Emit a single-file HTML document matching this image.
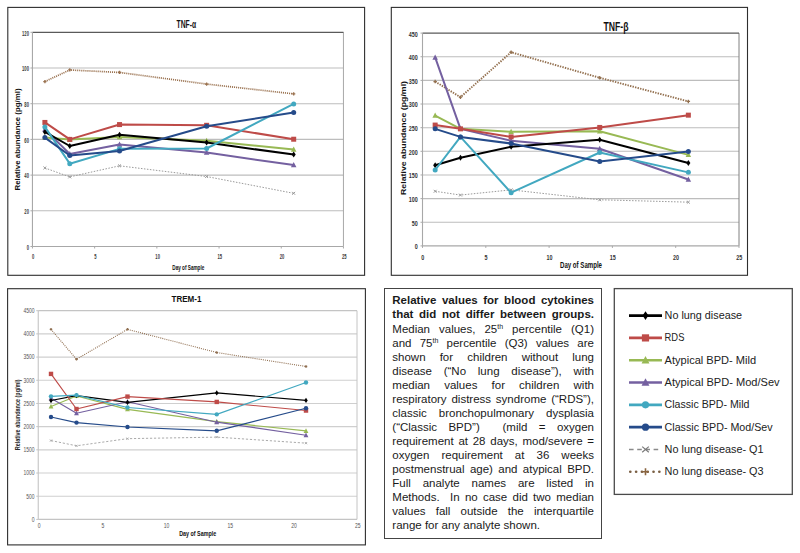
<!DOCTYPE html>
<html><head><meta charset="utf-8">
<style>
html,body{margin:0;padding:0;background:#fff;}
body{width:800px;height:553px;position:relative;overflow:hidden;font-family:"Liberation Sans", sans-serif;}
svg{position:absolute;left:0;top:0;}
svg text{font-family:"Liberation Sans", sans-serif;}
.box{position:absolute;left:383.8px;top:288.3px;width:218.4px;height:250.7px;border:1.5px solid #444;box-sizing:border-box;}
.pl{position:absolute;left:392.3px;width:201.7px;font-size:11.5px;line-height:14px;height:14px;white-space:nowrap;text-align:justify;color:#1a1a1a;}
.pl sup{font-size:7px;line-height:0;vertical-align:4px;}
</style></head><body>
<svg width="800" height="553" viewBox="0 0 800 553">
<rect x="7.8" y="7.4" width="356.8" height="267.90000000000003" fill="#fff" stroke="#2e2e2e" stroke-width="1.1"/>
<line x1="32.45" y1="210.80" x2="343.45" y2="210.80" stroke="#bdbdbd" stroke-width="1.1"/>
<line x1="32.45" y1="175.10" x2="343.45" y2="175.10" stroke="#bdbdbd" stroke-width="1.1"/>
<line x1="32.45" y1="139.40" x2="343.45" y2="139.40" stroke="#bdbdbd" stroke-width="1.1"/>
<line x1="32.45" y1="103.70" x2="343.45" y2="103.70" stroke="#bdbdbd" stroke-width="1.1"/>
<line x1="32.45" y1="68.00" x2="343.45" y2="68.00" stroke="#bdbdbd" stroke-width="1.1"/>
<line x1="343.45" y1="32.3" x2="343.45" y2="246.5" stroke="#a8a8a8" stroke-width="1.0"/>
<line x1="32.45" y1="32.3" x2="343.45" y2="32.3" stroke="#5a5a5a" stroke-width="1.2"/>
<line x1="32.45" y1="246.5" x2="343.45" y2="246.5" stroke="#a8a8a8" stroke-width="1.1"/>
<line x1="32.45" y1="32.3" x2="32.45" y2="246.5" stroke="#a8a8a8" stroke-width="1.1"/>
<line x1="30.450000000000003" y1="246.50" x2="32.45" y2="246.50" stroke="#a8a8a8" stroke-width="1"/>
<text x="28.95" y="249.80" font-size="7" font-weight="bold" text-anchor="end" textLength="2.3" lengthAdjust="spacingAndGlyphs" fill="#3a3a3a">0</text>
<line x1="30.450000000000003" y1="210.80" x2="32.45" y2="210.80" stroke="#a8a8a8" stroke-width="1"/>
<text x="28.95" y="214.10" font-size="7" font-weight="bold" text-anchor="end" textLength="4.6" lengthAdjust="spacingAndGlyphs" fill="#3a3a3a">20</text>
<line x1="30.450000000000003" y1="175.10" x2="32.45" y2="175.10" stroke="#a8a8a8" stroke-width="1"/>
<text x="28.95" y="178.40" font-size="7" font-weight="bold" text-anchor="end" textLength="4.6" lengthAdjust="spacingAndGlyphs" fill="#3a3a3a">40</text>
<line x1="30.450000000000003" y1="139.40" x2="32.45" y2="139.40" stroke="#a8a8a8" stroke-width="1"/>
<text x="28.95" y="142.70" font-size="7" font-weight="bold" text-anchor="end" textLength="4.6" lengthAdjust="spacingAndGlyphs" fill="#3a3a3a">60</text>
<line x1="30.450000000000003" y1="103.70" x2="32.45" y2="103.70" stroke="#a8a8a8" stroke-width="1"/>
<text x="28.95" y="107.00" font-size="7" font-weight="bold" text-anchor="end" textLength="4.6" lengthAdjust="spacingAndGlyphs" fill="#3a3a3a">80</text>
<line x1="30.450000000000003" y1="68.00" x2="32.45" y2="68.00" stroke="#a8a8a8" stroke-width="1"/>
<text x="28.95" y="71.30" font-size="7" font-weight="bold" text-anchor="end" textLength="6.9" lengthAdjust="spacingAndGlyphs" fill="#3a3a3a">100</text>
<line x1="30.450000000000003" y1="32.30" x2="32.45" y2="32.30" stroke="#a8a8a8" stroke-width="1"/>
<text x="28.95" y="35.60" font-size="7" font-weight="bold" text-anchor="end" textLength="6.9" lengthAdjust="spacingAndGlyphs" fill="#3a3a3a">120</text>
<line x1="32.45" y1="246.5" x2="32.45" y2="248.5" stroke="#a8a8a8" stroke-width="1"/>
<text x="33.25" y="258.90" font-size="7" font-weight="bold" text-anchor="middle" textLength="2.3" lengthAdjust="spacingAndGlyphs" fill="#3a3a3a">0</text>
<line x1="94.65" y1="246.5" x2="94.65" y2="248.5" stroke="#a8a8a8" stroke-width="1"/>
<text x="95.45" y="258.90" font-size="7" font-weight="bold" text-anchor="middle" textLength="2.3" lengthAdjust="spacingAndGlyphs" fill="#3a3a3a">5</text>
<line x1="156.85" y1="246.5" x2="156.85" y2="248.5" stroke="#a8a8a8" stroke-width="1"/>
<text x="157.65" y="258.90" font-size="7" font-weight="bold" text-anchor="middle" textLength="4.6" lengthAdjust="spacingAndGlyphs" fill="#3a3a3a">10</text>
<line x1="219.05" y1="246.5" x2="219.05" y2="248.5" stroke="#a8a8a8" stroke-width="1"/>
<text x="219.85" y="258.90" font-size="7" font-weight="bold" text-anchor="middle" textLength="4.6" lengthAdjust="spacingAndGlyphs" fill="#3a3a3a">15</text>
<line x1="281.25" y1="246.5" x2="281.25" y2="248.5" stroke="#a8a8a8" stroke-width="1"/>
<text x="282.05" y="258.90" font-size="7" font-weight="bold" text-anchor="middle" textLength="4.6" lengthAdjust="spacingAndGlyphs" fill="#3a3a3a">20</text>
<line x1="343.45" y1="246.5" x2="343.45" y2="248.5" stroke="#a8a8a8" stroke-width="1"/>
<text x="344.25" y="258.90" font-size="7" font-weight="bold" text-anchor="middle" textLength="4.6" lengthAdjust="spacingAndGlyphs" fill="#3a3a3a">25</text>
<text x="186.3" y="27.9" font-size="11" font-weight="bold" text-anchor="middle" textLength="19.5" lengthAdjust="spacingAndGlyphs" fill="#111">TNF-α</text>
<text transform="translate(17.6 139.5) rotate(-90)" x="0" y="2.27" font-size="6.3" font-weight="bold" text-anchor="middle" textLength="102" lengthAdjust="spacingAndGlyphs" fill="#111">Relative abundance (pg/ml)</text>
<text x="188.3" y="269.6" font-size="7.5" font-weight="bold" text-anchor="middle" textLength="32" lengthAdjust="spacingAndGlyphs" fill="#111">Day of Sample</text>
<path d="M44.89 167.96 L69.77 176.88 L119.53 165.82 L206.61 176.53 L293.69 193.31" fill="none" stroke="#9a9a9a" stroke-width="1.0" stroke-dasharray="1.5 1.5"/>
<path d="M43.45 166.52L46.33 169.40M46.33 166.52L43.45 169.40" stroke="#9a9a9a" stroke-width="1"/>
<path d="M68.33 175.44L71.21 178.32M71.21 175.44L68.33 178.32" stroke="#9a9a9a" stroke-width="1"/>
<path d="M118.09 164.38L120.97 167.26M120.97 164.38L118.09 167.26" stroke="#9a9a9a" stroke-width="1"/>
<path d="M205.17 175.09L208.05 177.97M208.05 175.09L205.17 177.97" stroke="#9a9a9a" stroke-width="1"/>
<path d="M292.25 191.87L295.13 194.75M295.13 191.87L292.25 194.75" stroke="#9a9a9a" stroke-width="1"/>
<path d="M44.89 81.57 L69.77 69.96 L119.53 72.46 L206.61 84.06 L293.69 93.88" fill="none" stroke="#9a7250" stroke-width="1.7" stroke-dasharray="1.1 0.95"/>
<path d="M43.27 81.57L46.51 81.57M44.89 79.95L44.89 83.19" stroke="#9a7250" stroke-width="1.3"/>
<path d="M68.15 69.96L71.39 69.96M69.77 68.34L69.77 71.58" stroke="#9a7250" stroke-width="1.3"/>
<path d="M117.91 72.46L121.15 72.46M119.53 70.84L119.53 74.08" stroke="#9a7250" stroke-width="1.3"/>
<path d="M204.99 84.06L208.23 84.06M206.61 82.44L206.61 85.69" stroke="#9a7250" stroke-width="1.3"/>
<path d="M292.07 93.88L295.31 93.88M293.69 92.26L293.69 95.50" stroke="#9a7250" stroke-width="1.3"/>
<path d="M44.89 137.62 L69.77 139.40 L119.53 137.08 L206.61 140.65 L293.69 149.57" fill="none" stroke="#98B954" stroke-width="2.0" stroke-linejoin="round"/>
<path d="M44.89 134.62L47.64 139.87L42.14 139.87Z" fill="#98B954"/>
<path d="M69.77 136.40L72.52 141.65L67.02 141.65Z" fill="#98B954"/>
<path d="M119.53 134.08L122.28 139.33L116.78 139.33Z" fill="#98B954"/>
<path d="M206.61 137.65L209.36 142.90L203.86 142.90Z" fill="#98B954"/>
<path d="M293.69 146.57L296.44 151.82L290.94 151.82Z" fill="#98B954"/>
<path d="M44.89 129.40 L69.77 154.04 L119.53 144.40 L206.61 152.61 L293.69 165.10" fill="none" stroke="#7460A0" stroke-width="2.0" stroke-linejoin="round"/>
<path d="M44.89 126.40L47.64 131.65L42.14 131.65Z" fill="#7460A0"/>
<path d="M69.77 151.04L72.52 156.29L67.02 156.29Z" fill="#7460A0"/>
<path d="M119.53 141.40L122.28 146.65L116.78 146.65Z" fill="#7460A0"/>
<path d="M206.61 149.61L209.36 154.86L203.86 154.86Z" fill="#7460A0"/>
<path d="M293.69 162.10L296.44 167.35L290.94 167.35Z" fill="#7460A0"/>
<path d="M44.89 131.90 L69.77 146.00 L119.53 134.76 L206.61 142.61 L293.69 154.57" fill="none" stroke="#000000" stroke-width="2.0" stroke-linejoin="round"/>
<path d="M44.89 128.90L46.89 131.90L44.89 134.90L42.89 131.90Z" fill="#000000"/>
<path d="M69.77 143.00L71.77 146.00L69.77 149.00L67.77 146.00Z" fill="#000000"/>
<path d="M119.53 131.76L121.53 134.76L119.53 137.76L117.53 134.76Z" fill="#000000"/>
<path d="M206.61 139.61L208.61 142.61L206.61 145.61L204.61 142.61Z" fill="#000000"/>
<path d="M293.69 151.57L295.69 154.57L293.69 157.57L291.69 154.57Z" fill="#000000"/>
<path d="M44.89 122.44 L69.77 139.40 L119.53 124.58 L206.61 125.30 L293.69 139.22" fill="none" stroke="#BE4B48" stroke-width="2.0" stroke-linejoin="round"/>
<rect x="42.39" y="119.94" width="5.00" height="5.00" fill="#BE4B48"/>
<rect x="67.27" y="136.90" width="5.00" height="5.00" fill="#BE4B48"/>
<rect x="117.03" y="122.08" width="5.00" height="5.00" fill="#BE4B48"/>
<rect x="204.11" y="122.80" width="5.00" height="5.00" fill="#BE4B48"/>
<rect x="291.19" y="136.72" width="5.00" height="5.00" fill="#BE4B48"/>
<path d="M44.89 126.91 L69.77 163.68 L119.53 148.86 L206.61 148.50 L293.69 103.88" fill="none" stroke="#42A8C0" stroke-width="2.0" stroke-linejoin="round"/>
<circle cx="44.89" cy="126.91" r="2.50" fill="#42A8C0"/>
<circle cx="69.77" cy="163.68" r="2.50" fill="#42A8C0"/>
<circle cx="119.53" cy="148.86" r="2.50" fill="#42A8C0"/>
<circle cx="206.61" cy="148.50" r="2.50" fill="#42A8C0"/>
<circle cx="293.69" cy="103.88" r="2.50" fill="#42A8C0"/>
<path d="M44.89 137.62 L69.77 155.47 L119.53 151.00 L206.61 126.19 L293.69 112.45" fill="none" stroke="#254B8A" stroke-width="2.0" stroke-linejoin="round"/>
<circle cx="44.89" cy="137.62" r="2.50" fill="#254B8A"/>
<circle cx="69.77" cy="155.47" r="2.50" fill="#254B8A"/>
<circle cx="119.53" cy="151.00" r="2.50" fill="#254B8A"/>
<circle cx="206.61" cy="126.19" r="2.50" fill="#254B8A"/>
<circle cx="293.69" cy="112.45" r="2.50" fill="#254B8A"/>
<rect x="391.3" y="7.4" width="356.2" height="267.90000000000003" fill="#fff" stroke="#2e2e2e" stroke-width="1.1"/>
<line x1="422.5" y1="222.26" x2="739.00" y2="222.26" stroke="#bdbdbd" stroke-width="1.1"/>
<line x1="422.5" y1="198.61" x2="739.00" y2="198.61" stroke="#bdbdbd" stroke-width="1.1"/>
<line x1="422.5" y1="174.97" x2="739.00" y2="174.97" stroke="#bdbdbd" stroke-width="1.1"/>
<line x1="422.5" y1="151.32" x2="739.00" y2="151.32" stroke="#bdbdbd" stroke-width="1.1"/>
<line x1="422.5" y1="127.68" x2="739.00" y2="127.68" stroke="#bdbdbd" stroke-width="1.1"/>
<line x1="422.5" y1="104.03" x2="739.00" y2="104.03" stroke="#bdbdbd" stroke-width="1.1"/>
<line x1="422.5" y1="80.39" x2="739.00" y2="80.39" stroke="#bdbdbd" stroke-width="1.1"/>
<line x1="422.5" y1="56.74" x2="739.00" y2="56.74" stroke="#bdbdbd" stroke-width="1.1"/>
<line x1="739.00" y1="33.1" x2="739.00" y2="245.9" stroke="#808080" stroke-width="1.0"/>
<line x1="422.5" y1="33.1" x2="739.00" y2="33.1" stroke="#5a5a5a" stroke-width="1.2"/>
<line x1="422.5" y1="245.9" x2="739.00" y2="245.9" stroke="#a8a8a8" stroke-width="1.1"/>
<line x1="422.5" y1="33.1" x2="422.5" y2="245.9" stroke="#a8a8a8" stroke-width="1.1"/>
<line x1="420.5" y1="245.90" x2="422.5" y2="245.90" stroke="#a8a8a8" stroke-width="1"/>
<text x="417.70" y="249.30" font-size="7.5" font-weight="bold" text-anchor="end" textLength="3.0" lengthAdjust="spacingAndGlyphs" fill="#333">0</text>
<line x1="420.5" y1="222.26" x2="422.5" y2="222.26" stroke="#a8a8a8" stroke-width="1"/>
<text x="417.70" y="225.66" font-size="7.5" font-weight="bold" text-anchor="end" textLength="6.0" lengthAdjust="spacingAndGlyphs" fill="#333">50</text>
<line x1="420.5" y1="198.61" x2="422.5" y2="198.61" stroke="#a8a8a8" stroke-width="1"/>
<text x="417.70" y="202.01" font-size="7.5" font-weight="bold" text-anchor="end" textLength="9.0" lengthAdjust="spacingAndGlyphs" fill="#333">100</text>
<line x1="420.5" y1="174.97" x2="422.5" y2="174.97" stroke="#a8a8a8" stroke-width="1"/>
<text x="417.70" y="178.37" font-size="7.5" font-weight="bold" text-anchor="end" textLength="9.0" lengthAdjust="spacingAndGlyphs" fill="#333">150</text>
<line x1="420.5" y1="151.32" x2="422.5" y2="151.32" stroke="#a8a8a8" stroke-width="1"/>
<text x="417.70" y="154.72" font-size="7.5" font-weight="bold" text-anchor="end" textLength="9.0" lengthAdjust="spacingAndGlyphs" fill="#333">200</text>
<line x1="420.5" y1="127.68" x2="422.5" y2="127.68" stroke="#a8a8a8" stroke-width="1"/>
<text x="417.70" y="131.08" font-size="7.5" font-weight="bold" text-anchor="end" textLength="9.0" lengthAdjust="spacingAndGlyphs" fill="#333">250</text>
<line x1="420.5" y1="104.03" x2="422.5" y2="104.03" stroke="#a8a8a8" stroke-width="1"/>
<text x="417.70" y="107.43" font-size="7.5" font-weight="bold" text-anchor="end" textLength="9.0" lengthAdjust="spacingAndGlyphs" fill="#333">300</text>
<line x1="420.5" y1="80.39" x2="422.5" y2="80.39" stroke="#a8a8a8" stroke-width="1"/>
<text x="417.70" y="83.79" font-size="7.5" font-weight="bold" text-anchor="end" textLength="9.0" lengthAdjust="spacingAndGlyphs" fill="#333">350</text>
<line x1="420.5" y1="56.74" x2="422.5" y2="56.74" stroke="#a8a8a8" stroke-width="1"/>
<text x="417.70" y="60.14" font-size="7.5" font-weight="bold" text-anchor="end" textLength="9.0" lengthAdjust="spacingAndGlyphs" fill="#333">400</text>
<line x1="420.5" y1="33.10" x2="422.5" y2="33.10" stroke="#a8a8a8" stroke-width="1"/>
<text x="417.70" y="36.50" font-size="7.5" font-weight="bold" text-anchor="end" textLength="9.0" lengthAdjust="spacingAndGlyphs" fill="#333">450</text>
<line x1="422.50" y1="245.9" x2="422.50" y2="247.9" stroke="#a8a8a8" stroke-width="1"/>
<text x="422.80" y="260.10" font-size="7.5" font-weight="bold" text-anchor="middle" textLength="3.0" lengthAdjust="spacingAndGlyphs" fill="#333">0</text>
<line x1="485.80" y1="245.9" x2="485.80" y2="247.9" stroke="#a8a8a8" stroke-width="1"/>
<text x="486.10" y="260.10" font-size="7.5" font-weight="bold" text-anchor="middle" textLength="3.0" lengthAdjust="spacingAndGlyphs" fill="#333">5</text>
<line x1="549.10" y1="245.9" x2="549.10" y2="247.9" stroke="#a8a8a8" stroke-width="1"/>
<text x="549.40" y="260.10" font-size="7.5" font-weight="bold" text-anchor="middle" textLength="6.0" lengthAdjust="spacingAndGlyphs" fill="#333">10</text>
<line x1="612.40" y1="245.9" x2="612.40" y2="247.9" stroke="#a8a8a8" stroke-width="1"/>
<text x="612.70" y="260.10" font-size="7.5" font-weight="bold" text-anchor="middle" textLength="6.0" lengthAdjust="spacingAndGlyphs" fill="#333">15</text>
<line x1="675.70" y1="245.9" x2="675.70" y2="247.9" stroke="#a8a8a8" stroke-width="1"/>
<text x="676.00" y="260.10" font-size="7.5" font-weight="bold" text-anchor="middle" textLength="6.0" lengthAdjust="spacingAndGlyphs" fill="#333">20</text>
<line x1="739.00" y1="245.9" x2="739.00" y2="247.9" stroke="#a8a8a8" stroke-width="1"/>
<text x="739.30" y="260.10" font-size="7.5" font-weight="bold" text-anchor="middle" textLength="6.0" lengthAdjust="spacingAndGlyphs" fill="#333">25</text>
<text x="616" y="30.6" font-size="13" font-weight="bold" text-anchor="middle" textLength="25" lengthAdjust="spacingAndGlyphs" fill="#111">TNF-β</text>
<text transform="translate(403.4 138) rotate(-90)" x="0" y="2.27" font-size="6.3" font-weight="bold" text-anchor="middle" textLength="114" lengthAdjust="spacingAndGlyphs" fill="#111">Relative abundance (pg/ml)</text>
<text x="581" y="268.2" font-size="8.4" font-weight="bold" text-anchor="middle" textLength="42" lengthAdjust="spacingAndGlyphs" fill="#111">Day of Sample</text>
<path d="M435.16 191.28 L460.48 195.06 L511.12 189.86 L599.74 199.79 L688.36 202.16" fill="none" stroke="#9a9a9a" stroke-width="1.0" stroke-dasharray="1.5 1.5"/>
<path d="M433.72 189.84L436.60 192.72M436.60 189.84L433.72 192.72" stroke="#9a9a9a" stroke-width="1"/>
<path d="M459.04 193.62L461.92 196.50M461.92 193.62L459.04 196.50" stroke="#9a9a9a" stroke-width="1"/>
<path d="M509.68 188.42L512.56 191.30M512.56 188.42L509.68 191.30" stroke="#9a9a9a" stroke-width="1"/>
<path d="M598.30 198.35L601.18 201.23M601.18 198.35L598.30 201.23" stroke="#9a9a9a" stroke-width="1"/>
<path d="M686.92 200.72L689.80 203.60M689.80 200.72L686.92 203.60" stroke="#9a9a9a" stroke-width="1"/>
<path d="M435.16 81.57 L460.48 97.18 L511.12 52.25 L599.74 77.79 L688.36 101.43" fill="none" stroke="#93704f" stroke-width="1.9" stroke-dasharray="1.4 1.2"/>
<path d="M433.45 81.57L436.87 81.57M435.16 79.86L435.16 83.28" stroke="#93704f" stroke-width="1.3"/>
<path d="M458.77 97.18L462.19 97.18M460.48 95.47L460.48 98.89" stroke="#93704f" stroke-width="1.3"/>
<path d="M509.41 52.25L512.83 52.25M511.12 50.54L511.12 53.96" stroke="#93704f" stroke-width="1.3"/>
<path d="M598.03 77.79L601.45 77.79M599.74 76.08L599.74 79.50" stroke="#93704f" stroke-width="1.3"/>
<path d="M686.65 101.43L690.07 101.43M688.36 99.72L688.36 103.14" stroke="#93704f" stroke-width="1.3"/>
<path d="M435.16 115.62 L460.48 128.86 L511.12 131.70 L599.74 131.22 L688.36 154.87" fill="none" stroke="#98B954" stroke-width="2.0" stroke-linejoin="round"/>
<path d="M435.16 112.62L437.91 117.87L432.41 117.87Z" fill="#98B954"/>
<path d="M460.48 125.86L463.23 131.11L457.73 131.11Z" fill="#98B954"/>
<path d="M511.12 128.70L513.87 133.95L508.37 133.95Z" fill="#98B954"/>
<path d="M599.74 128.22L602.49 133.47L596.99 133.47Z" fill="#98B954"/>
<path d="M688.36 151.87L691.11 157.12L685.61 157.12Z" fill="#98B954"/>
<path d="M435.16 57.45 L460.48 128.86 L511.12 140.68 L599.74 148.72 L688.36 179.46" fill="none" stroke="#7460A0" stroke-width="2.0" stroke-linejoin="round"/>
<path d="M435.16 54.45L437.91 59.70L432.41 59.70Z" fill="#7460A0"/>
<path d="M460.48 125.86L463.23 131.11L457.73 131.11Z" fill="#7460A0"/>
<path d="M511.12 137.68L513.87 142.93L508.37 142.93Z" fill="#7460A0"/>
<path d="M599.74 145.72L602.49 150.97L596.99 150.97Z" fill="#7460A0"/>
<path d="M688.36 176.46L691.11 181.71L685.61 181.71Z" fill="#7460A0"/>
<path d="M435.16 165.27 L460.48 157.71 L511.12 146.83 L599.74 139.74 L688.36 162.91" fill="none" stroke="#000000" stroke-width="2.0" stroke-linejoin="round"/>
<path d="M435.16 162.27L437.16 165.27L435.16 168.27L433.16 165.27Z" fill="#000000"/>
<path d="M460.48 154.71L462.48 157.71L460.48 160.71L458.48 157.71Z" fill="#000000"/>
<path d="M511.12 143.83L513.12 146.83L511.12 149.83L509.12 146.83Z" fill="#000000"/>
<path d="M599.74 136.74L601.74 139.74L599.74 142.74L597.74 139.74Z" fill="#000000"/>
<path d="M688.36 159.91L690.36 162.91L688.36 165.91L686.36 162.91Z" fill="#000000"/>
<path d="M435.16 125.08 L460.48 128.86 L511.12 136.90 L599.74 127.44 L688.36 115.15" fill="none" stroke="#BE4B48" stroke-width="2.0" stroke-linejoin="round"/>
<rect x="432.66" y="122.58" width="5.00" height="5.00" fill="#BE4B48"/>
<rect x="457.98" y="126.36" width="5.00" height="5.00" fill="#BE4B48"/>
<rect x="508.62" y="134.40" width="5.00" height="5.00" fill="#BE4B48"/>
<rect x="597.24" y="124.94" width="5.00" height="5.00" fill="#BE4B48"/>
<rect x="685.86" y="112.65" width="5.00" height="5.00" fill="#BE4B48"/>
<path d="M435.16 170.00 L460.48 136.90 L511.12 192.70 L599.74 152.50 L688.36 172.37" fill="none" stroke="#42A8C0" stroke-width="2.0" stroke-linejoin="round"/>
<circle cx="435.16" cy="170.00" r="2.50" fill="#42A8C0"/>
<circle cx="460.48" cy="136.90" r="2.50" fill="#42A8C0"/>
<circle cx="511.12" cy="192.70" r="2.50" fill="#42A8C0"/>
<circle cx="599.74" cy="152.50" r="2.50" fill="#42A8C0"/>
<circle cx="688.36" cy="172.37" r="2.50" fill="#42A8C0"/>
<path d="M435.16 128.86 L460.48 136.90 L511.12 143.52 L599.74 161.49 L688.36 151.56" fill="none" stroke="#254B8A" stroke-width="2.0" stroke-linejoin="round"/>
<circle cx="435.16" cy="128.86" r="2.50" fill="#254B8A"/>
<circle cx="460.48" cy="136.90" r="2.50" fill="#254B8A"/>
<circle cx="511.12" cy="143.52" r="2.50" fill="#254B8A"/>
<circle cx="599.74" cy="161.49" r="2.50" fill="#254B8A"/>
<circle cx="688.36" cy="151.56" r="2.50" fill="#254B8A"/>
<rect x="7.6" y="288.7" width="357.79999999999995" height="256.2" fill="#fff" stroke="#2e2e2e" stroke-width="1.1"/>
<line x1="38.25" y1="496.21" x2="357.00" y2="496.21" stroke="#cfcfcf" stroke-width="1.1"/>
<line x1="38.25" y1="473.02" x2="357.00" y2="473.02" stroke="#cfcfcf" stroke-width="1.1"/>
<line x1="38.25" y1="449.83" x2="357.00" y2="449.83" stroke="#cfcfcf" stroke-width="1.1"/>
<line x1="38.25" y1="426.64" x2="357.00" y2="426.64" stroke="#cfcfcf" stroke-width="1.1"/>
<line x1="38.25" y1="403.46" x2="357.00" y2="403.46" stroke="#cfcfcf" stroke-width="1.1"/>
<line x1="38.25" y1="380.27" x2="357.00" y2="380.27" stroke="#cfcfcf" stroke-width="1.1"/>
<line x1="38.25" y1="357.08" x2="357.00" y2="357.08" stroke="#cfcfcf" stroke-width="1.1"/>
<line x1="38.25" y1="333.89" x2="357.00" y2="333.89" stroke="#cfcfcf" stroke-width="1.1"/>
<line x1="357.00" y1="310.7" x2="357.00" y2="519.4" stroke="#c4c4c4" stroke-width="1.0"/>
<line x1="38.25" y1="310.7" x2="357.00" y2="310.7" stroke="#c4c4c4" stroke-width="1.2"/>
<line x1="38.25" y1="519.4" x2="357.00" y2="519.4" stroke="#c4c4c4" stroke-width="1.1"/>
<line x1="38.25" y1="310.7" x2="38.25" y2="519.4" stroke="#c4c4c4" stroke-width="1.1"/>
<line x1="36.25" y1="519.40" x2="38.25" y2="519.40" stroke="#c4c4c4" stroke-width="1"/>
<text x="34.45" y="521.80" font-size="6.5" font-weight="normal" text-anchor="end" textLength="2.8" lengthAdjust="spacingAndGlyphs" fill="#555">0</text>
<line x1="36.25" y1="496.21" x2="38.25" y2="496.21" stroke="#c4c4c4" stroke-width="1"/>
<text x="34.45" y="498.61" font-size="6.5" font-weight="normal" text-anchor="end" textLength="8.2" lengthAdjust="spacingAndGlyphs" fill="#555">500</text>
<line x1="36.25" y1="473.02" x2="38.25" y2="473.02" stroke="#c4c4c4" stroke-width="1"/>
<text x="34.45" y="475.42" font-size="6.5" font-weight="normal" text-anchor="end" textLength="11.0" lengthAdjust="spacingAndGlyphs" fill="#555">1000</text>
<line x1="36.25" y1="449.83" x2="38.25" y2="449.83" stroke="#c4c4c4" stroke-width="1"/>
<text x="34.45" y="452.23" font-size="6.5" font-weight="normal" text-anchor="end" textLength="11.0" lengthAdjust="spacingAndGlyphs" fill="#555">1500</text>
<line x1="36.25" y1="426.64" x2="38.25" y2="426.64" stroke="#c4c4c4" stroke-width="1"/>
<text x="34.45" y="429.04" font-size="6.5" font-weight="normal" text-anchor="end" textLength="11.0" lengthAdjust="spacingAndGlyphs" fill="#555">2000</text>
<line x1="36.25" y1="403.46" x2="38.25" y2="403.46" stroke="#c4c4c4" stroke-width="1"/>
<text x="34.45" y="405.86" font-size="6.5" font-weight="normal" text-anchor="end" textLength="11.0" lengthAdjust="spacingAndGlyphs" fill="#555">2500</text>
<line x1="36.25" y1="380.27" x2="38.25" y2="380.27" stroke="#c4c4c4" stroke-width="1"/>
<text x="34.45" y="382.67" font-size="6.5" font-weight="normal" text-anchor="end" textLength="11.0" lengthAdjust="spacingAndGlyphs" fill="#555">3000</text>
<line x1="36.25" y1="357.08" x2="38.25" y2="357.08" stroke="#c4c4c4" stroke-width="1"/>
<text x="34.45" y="359.48" font-size="6.5" font-weight="normal" text-anchor="end" textLength="11.0" lengthAdjust="spacingAndGlyphs" fill="#555">3500</text>
<line x1="36.25" y1="333.89" x2="38.25" y2="333.89" stroke="#c4c4c4" stroke-width="1"/>
<text x="34.45" y="336.29" font-size="6.5" font-weight="normal" text-anchor="end" textLength="11.0" lengthAdjust="spacingAndGlyphs" fill="#555">4000</text>
<line x1="36.25" y1="310.70" x2="38.25" y2="310.70" stroke="#c4c4c4" stroke-width="1"/>
<text x="34.45" y="313.10" font-size="6.5" font-weight="normal" text-anchor="end" textLength="11.0" lengthAdjust="spacingAndGlyphs" fill="#555">4500</text>
<text x="39.05" y="527.60" font-size="6.5" font-weight="normal" text-anchor="middle" textLength="2.8" lengthAdjust="spacingAndGlyphs" fill="#555">0</text>
<text x="102.80" y="527.60" font-size="6.5" font-weight="normal" text-anchor="middle" textLength="2.8" lengthAdjust="spacingAndGlyphs" fill="#555">5</text>
<text x="166.55" y="527.60" font-size="6.5" font-weight="normal" text-anchor="middle" textLength="5.6" lengthAdjust="spacingAndGlyphs" fill="#555">10</text>
<text x="230.30" y="527.60" font-size="6.5" font-weight="normal" text-anchor="middle" textLength="5.6" lengthAdjust="spacingAndGlyphs" fill="#555">15</text>
<text x="294.05" y="527.60" font-size="6.5" font-weight="normal" text-anchor="middle" textLength="5.6" lengthAdjust="spacingAndGlyphs" fill="#555">20</text>
<text x="357.80" y="527.60" font-size="6.5" font-weight="normal" text-anchor="middle" textLength="5.6" lengthAdjust="spacingAndGlyphs" fill="#555">25</text>
<text x="186.5" y="302" font-size="9" font-weight="bold" text-anchor="middle" textLength="30" lengthAdjust="spacingAndGlyphs" fill="#111">TREM-1</text>
<text transform="translate(17.8 414.8) rotate(-90)" x="0" y="2.30" font-size="6.4" font-weight="bold" text-anchor="middle" textLength="71" lengthAdjust="spacingAndGlyphs" fill="#2a2a2a">Relative abundance (pg/ml)</text>
<text x="197.7" y="536.3" font-size="6.8" font-weight="bold" text-anchor="middle" textLength="37" lengthAdjust="spacingAndGlyphs" fill="#111">Day of Sample</text>
<path d="M51.00 440.56 L76.50 445.80 L127.50 438.66 L216.75 437.13 L306.00 443.15" fill="none" stroke="#ababab" stroke-width="1.0" stroke-dasharray="2.2 1.8"/>
<path d="M49.96 439.52L52.04 441.60M52.04 439.52L49.96 441.60" stroke="#ababab" stroke-width="1"/>
<path d="M75.46 444.76L77.54 446.84M77.54 444.76L75.46 446.84" stroke="#ababab" stroke-width="1"/>
<path d="M126.46 437.62L128.54 439.70M128.54 437.62L126.46 439.70" stroke="#ababab" stroke-width="1"/>
<path d="M215.71 436.09L217.79 438.17M217.79 436.09L215.71 438.17" stroke="#ababab" stroke-width="1"/>
<path d="M304.96 442.11L307.04 444.19M307.04 442.11L304.96 444.19" stroke="#ababab" stroke-width="1"/>
<path d="M51.00 329.34 L76.50 359.26 L127.50 329.34 L216.75 352.53 L306.00 366.49" fill="none" stroke="#8f6e50" stroke-width="1.1" stroke-dasharray="1 1.1"/>
<path d="M49.74 329.34L52.26 329.34M51.00 328.08L51.00 330.60" stroke="#8f6e50" stroke-width="1.3"/>
<path d="M75.24 359.26L77.76 359.26M76.50 358.00L76.50 360.52" stroke="#8f6e50" stroke-width="1.3"/>
<path d="M126.24 329.34L128.76 329.34M127.50 328.08L127.50 330.60" stroke="#8f6e50" stroke-width="1.3"/>
<path d="M215.49 352.53L218.01 352.53M216.75 351.27L216.75 353.79" stroke="#8f6e50" stroke-width="1.3"/>
<path d="M304.74 366.49L307.26 366.49M306.00 365.23L306.00 367.75" stroke="#8f6e50" stroke-width="1.3"/>
<path d="M51.00 406.52 L76.50 396.04 L127.50 409.35 L216.75 421.59 L306.00 430.91" fill="none" stroke="#98B954" stroke-width="1.15" stroke-linejoin="round"/>
<path d="M51.00 403.88L53.42 408.50L48.58 408.50Z" fill="#98B954"/>
<path d="M76.50 393.40L78.92 398.02L74.08 398.02Z" fill="#98B954"/>
<path d="M127.50 406.71L129.92 411.33L125.08 411.33Z" fill="#98B954"/>
<path d="M216.75 418.95L219.17 423.57L214.33 423.57Z" fill="#98B954"/>
<path d="M306.00 428.27L308.42 432.89L303.58 432.89Z" fill="#98B954"/>
<path d="M51.00 398.35 L76.50 413.19 L127.50 401.69 L216.75 422.19 L306.00 435.22" fill="none" stroke="#7460A0" stroke-width="1.15" stroke-linejoin="round"/>
<path d="M51.00 395.71L53.42 400.33L48.58 400.33Z" fill="#7460A0"/>
<path d="M76.50 410.55L78.92 415.17L74.08 415.17Z" fill="#7460A0"/>
<path d="M127.50 399.05L129.92 403.67L125.08 403.67Z" fill="#7460A0"/>
<path d="M216.75 419.55L219.17 424.17L214.33 424.17Z" fill="#7460A0"/>
<path d="M306.00 432.58L308.42 437.20L303.58 437.20Z" fill="#7460A0"/>
<path d="M51.00 400.53 L76.50 395.57 L127.50 402.44 L216.75 392.88 L306.00 400.39" fill="none" stroke="#000000" stroke-width="1.15" stroke-linejoin="round"/>
<path d="M51.00 397.89L52.76 400.53L51.00 403.17L49.24 400.53Z" fill="#000000"/>
<path d="M76.50 392.93L78.26 395.57L76.50 398.21L74.74 395.57Z" fill="#000000"/>
<path d="M127.50 399.80L129.26 402.44L127.50 405.08L125.74 402.44Z" fill="#000000"/>
<path d="M216.75 390.24L218.51 392.88L216.75 395.52L214.99 392.88Z" fill="#000000"/>
<path d="M306.00 397.75L307.76 400.39L306.00 403.03L304.24 400.39Z" fill="#000000"/>
<path d="M51.00 373.91 L76.50 409.02 L127.50 396.59 L216.75 401.93 L306.00 410.55" fill="none" stroke="#BE4B48" stroke-width="1.15" stroke-linejoin="round"/>
<rect x="48.80" y="371.71" width="4.40" height="4.40" fill="#BE4B48"/>
<rect x="74.30" y="406.82" width="4.40" height="4.40" fill="#BE4B48"/>
<rect x="125.30" y="394.39" width="4.40" height="4.40" fill="#BE4B48"/>
<rect x="214.55" y="399.73" width="4.40" height="4.40" fill="#BE4B48"/>
<rect x="303.80" y="408.35" width="4.40" height="4.40" fill="#BE4B48"/>
<path d="M51.00 396.36 L76.50 395.11 L127.50 407.54 L216.75 414.35 L306.00 382.45" fill="none" stroke="#42A8C0" stroke-width="1.15" stroke-linejoin="round"/>
<circle cx="51.00" cy="396.36" r="2.20" fill="#42A8C0"/>
<circle cx="76.50" cy="395.11" r="2.20" fill="#42A8C0"/>
<circle cx="127.50" cy="407.54" r="2.20" fill="#42A8C0"/>
<circle cx="216.75" cy="414.35" r="2.20" fill="#42A8C0"/>
<circle cx="306.00" cy="382.45" r="2.20" fill="#42A8C0"/>
<path d="M51.00 417.00 L76.50 422.61 L127.50 427.02 L216.75 430.82 L306.00 408.23" fill="none" stroke="#254B8A" stroke-width="1.15" stroke-linejoin="round"/>
<circle cx="51.00" cy="417.00" r="2.20" fill="#254B8A"/>
<circle cx="76.50" cy="422.61" r="2.20" fill="#254B8A"/>
<circle cx="127.50" cy="427.02" r="2.20" fill="#254B8A"/>
<circle cx="216.75" cy="430.82" r="2.20" fill="#254B8A"/>
<circle cx="306.00" cy="408.23" r="2.20" fill="#254B8A"/>
<rect x="614.3" y="288.6" width="178" height="205.8" fill="#fff" stroke="#4a4a4a" stroke-width="1.3"/>
<line x1="629" y1="315.60" x2="662" y2="315.60" stroke="#000000" stroke-width="2.6"/>
<path d="M645.50 311.28L648.38 315.60L645.50 319.92L642.62 315.60Z" fill="#000000"/>
<text x="664.6" y="319.10" font-size="11" textLength="77.5" lengthAdjust="spacingAndGlyphs" fill="#222">No lung disease</text>
<line x1="629" y1="337.91" x2="662" y2="337.91" stroke="#BE4B48" stroke-width="2.6"/>
<rect x="641.90" y="334.31" width="7.20" height="7.20" fill="#BE4B48"/>
<text x="664.6" y="341.41" font-size="11" textLength="19.8" lengthAdjust="spacingAndGlyphs" fill="#222">RDS</text>
<line x1="629" y1="360.22" x2="662" y2="360.22" stroke="#98B954" stroke-width="2.6"/>
<path d="M645.50 355.90L649.46 363.46L641.54 363.46Z" fill="#98B954"/>
<text x="664.6" y="363.72" font-size="11" textLength="91.5" lengthAdjust="spacingAndGlyphs" fill="#222">Atypical BPD- Mild</text>
<line x1="629" y1="382.53" x2="662" y2="382.53" stroke="#7460A0" stroke-width="2.6"/>
<path d="M645.50 378.21L649.46 385.77L641.54 385.77Z" fill="#7460A0"/>
<text x="664.6" y="386.03" font-size="11" textLength="115" lengthAdjust="spacingAndGlyphs" fill="#222">Atypical BPD- Mod/Sev</text>
<line x1="629" y1="404.84" x2="662" y2="404.84" stroke="#42A8C0" stroke-width="2.6"/>
<circle cx="645.50" cy="404.84" r="3.60" fill="#42A8C0"/>
<text x="664.6" y="408.34" font-size="11" textLength="84.8" lengthAdjust="spacingAndGlyphs" fill="#222">Classic BPD- Mild</text>
<line x1="629" y1="427.15" x2="662" y2="427.15" stroke="#254B8A" stroke-width="2.6"/>
<circle cx="645.50" cy="427.15" r="3.60" fill="#254B8A"/>
<text x="664.6" y="430.65" font-size="11" textLength="108" lengthAdjust="spacingAndGlyphs" fill="#222">Classic BPD- Mod/Sev</text>
<line x1="629" y1="449.46" x2="660" y2="449.46" stroke="#8a8a8a" stroke-width="1.4" stroke-dasharray="4.6 3.6"/>
<path d="M642.2 446.66L648.8 452.26M648.8 446.66L642.2 452.26" stroke="#7a7a7a" stroke-width="1.2"/>
<text x="664.6" y="452.96" font-size="11" textLength="99" lengthAdjust="spacingAndGlyphs" fill="#222">No lung disease- Q1</text>
<line x1="630.3" y1="471.77" x2="660" y2="471.77" stroke="#7a5f43" stroke-width="2.7" stroke-linecap="round" stroke-dasharray="0.01 5.8"/>
<path d="M642 471.77L649 471.77M645.5 468.27L645.5 475.27" stroke="#8a6540" stroke-width="1.6"/>
<text x="664.6" y="475.27" font-size="11" textLength="99" lengthAdjust="spacingAndGlyphs" fill="#222">No lung disease- Q3</text>
</svg>
<div class="box"></div>
<div class="pl" style="top:293.40px;font-weight:bold;text-align-last:justify">Relative values for blood cytokines</div>
<div class="pl" style="top:307.46px;font-weight:bold;text-align-last:justify">that did not differ between groups.</div>
<div class="pl" style="top:321.52px;font-weight:normal;text-align-last:justify">Median values, 25<sup>th</sup> percentile (Q1)</div>
<div class="pl" style="top:335.58px;font-weight:normal;text-align-last:justify">and 75<sup>th</sup> percentile (Q3) values are</div>
<div class="pl" style="top:349.64px;font-weight:normal;text-align-last:justify">shown for children without lung</div>
<div class="pl" style="top:363.70px;font-weight:normal;text-align-last:justify">disease (“No lung disease”), with</div>
<div class="pl" style="top:377.76px;font-weight:normal;text-align-last:justify">median values for children with</div>
<div class="pl" style="top:391.82px;font-weight:normal;text-align-last:justify">respiratory distress syndrome (“RDS”),</div>
<div class="pl" style="top:405.88px;font-weight:normal;text-align-last:justify">classic bronchopulmonary dysplasia</div>
<div class="pl" style="top:419.94px;font-weight:normal;text-align-last:justify">(“Classic BPD”)&nbsp; (mild = oxygen</div>
<div class="pl" style="top:434.00px;font-weight:normal;text-align-last:justify">requirement at 28 days, mod/severe =</div>
<div class="pl" style="top:448.06px;font-weight:normal;text-align-last:justify">oxygen requirement at 36 weeks</div>
<div class="pl" style="top:462.12px;font-weight:normal;text-align-last:justify">postmenstrual age) and atypical BPD.</div>
<div class="pl" style="top:476.18px;font-weight:normal;text-align-last:justify">Full analyte names are listed in</div>
<div class="pl" style="top:490.24px;font-weight:normal;text-align-last:justify">Methods.&nbsp; In no case did two median</div>
<div class="pl" style="top:504.30px;font-weight:normal;text-align-last:justify">values fall outside the interquartile</div>
<div class="pl" style="top:518.36px;font-weight:normal;text-align-last:left">range for any analyte shown.</div>
</body></html>
